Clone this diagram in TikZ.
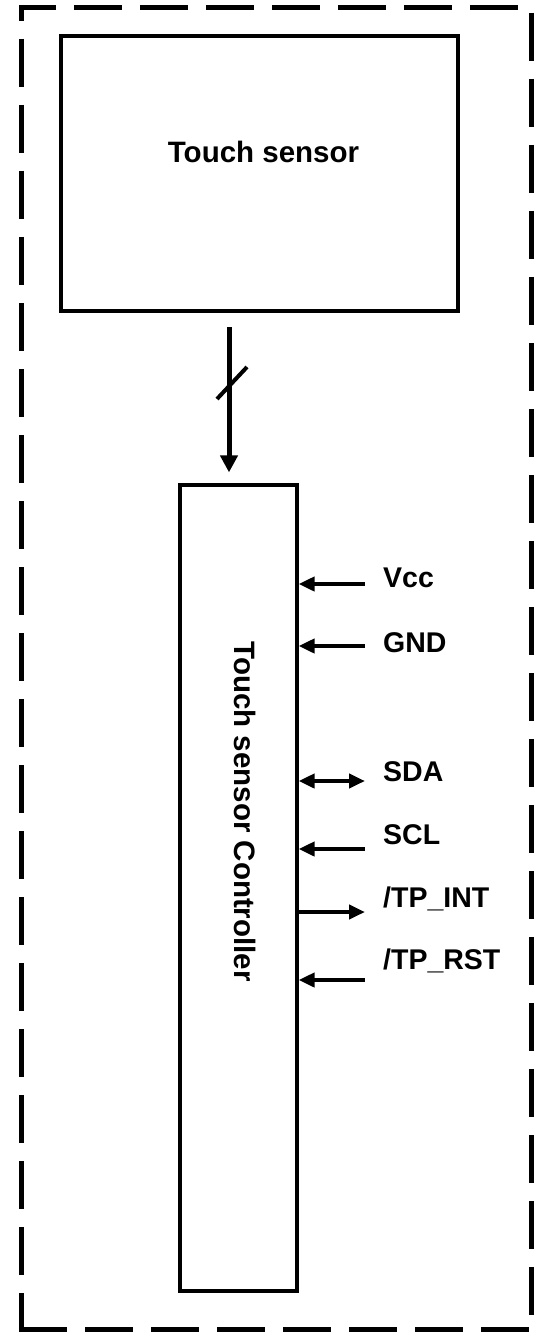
\documentclass[tikz,border=0pt]{standalone}
\usepackage{fontspec}
\setmainfont{Liberation Sans}
\usetikzlibrary{arrows.meta,positioning}

\tikzset{
  blk/.style={draw, line width=3.2pt, inner sep=0pt},
  big/.style={font=\fontsize{29.5}{34}\selectfont\bfseries, inner sep=0pt},
  lbl/.style={font=\fontsize{28.5}{33}\selectfont\bfseries, inner sep=0pt},
  frame/.style={line width=5pt, dash pattern=on 48pt off 18pt},
  sig/.style={line width=4pt},
  pinL/.style={{Triangle[length=16pt,width=14pt]}-},
  pinR/.style={-{Triangle[length=16pt,width=14pt]}},
  pinB/.style={{Triangle[length=16pt,width=14pt]}-{Triangle[length=16pt,width=14pt]}},
  busarrow/.style={line width=5pt, -{Triangle[length=17pt,width=17pt]}},
}

\begin{document}
\begin{tikzpicture}[x=1pt,y=-1pt]
\useasboundingbox (0,0) rectangle (534,1332);
% outer dashed frame, one side at a time
\coordinate (tl) at (21.5,7.5);
\coordinate (tr) at (531.5,7.5);
\coordinate (bl) at (21.5,1329.5);
\coordinate (br) at (531.5,1329.5);
\draw[frame, dash phase=32pt] ([yshift=2.5pt]tl) -- (bl);
\draw[frame, dash phase=11pt] ([xshift=-2.5pt]tl) -- (tr);
\draw[frame, dash phase=58pt] ([yshift=2.5pt]tr) -- (br);
\draw[frame] ([xshift=-2.5pt]bl) -- (br);

\node[blk, minimum width=397pt, minimum height=275pt] (sensor) at (259.5,173.5) {};
\node[big, anchor=base] (sensortxt) at (263.5,163) {Touch sensor};

\node[blk, minimum width=117pt, minimum height=806pt] (ctrl) at (238.5,888) {};
\node[big, rotate=-90] (ctrltxt) at (245.5,811.5) {Touch sensor Controller};

% bus from sensor to controller
\coordinate (bus) at (229,327);
\draw[busarrow, shorten >=11pt] (bus) -- (ctrl.north -| bus);
\draw[sig] (217,399) -- (247,367);

% signal pins
\foreach \name/\txt/\y/\ty/\tip in {
  vcc/Vcc/584/587/pinL,
  gnd/GND/646/652/pinL,
  sda/SDA/781/781/pinB,
  scl/SCL/849/844/pinL,
  int/{/TP\_INT}/912/907/pinR,
  rst/{/TP\_RST}/980/969/pinL} {
  \coordinate (\name) at (365,\y);
  \node[lbl, anchor=base west] (\name txt) at (383,\ty) {\txt};
  \draw[sig, \tip] (ctrl.east |- \name) -- (\name);
}
\end{tikzpicture}
\end{document}
